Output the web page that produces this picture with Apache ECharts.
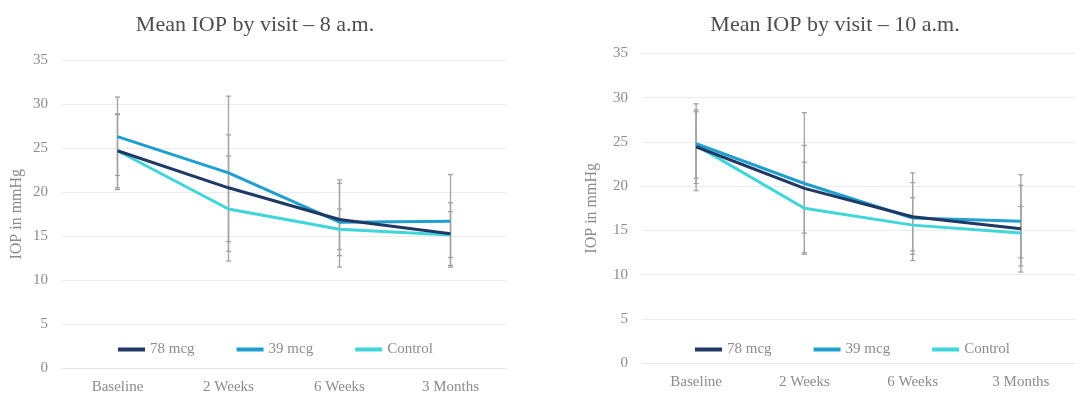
<!DOCTYPE html>
<html>
<head>
<meta charset="utf-8">
<script src="https://cdn.jsdelivr.net/npm/echarts@6/dist/echarts.min.js"></script>
<style>html,body{margin:0;padding:0;background:#fff}#c{width:1075px;height:396px}</style>
</head>
<body>
<div id="c"></div>
<script>
const categories = ['Baseline', '2 Weeks', '6 Weeks', '3 Months'];
const seriesNames = ['78 mcg', '39 mcg', 'Control'];
const yTicks = [0, 5, 10, 15, 20, 25, 30, 35];

// 8 a.m. chart
const am8_78 = [24.7, 20.5, 16.9, 15.3];
const am8_39 = [26.3, 22.2, 16.6, 16.7];
const am8_ctl = [24.7, 18.1, 15.8, 15.15];
const am8_78_lo = [20.3, 14.4, 12.8, 11.7];
const am8_78_hi = [28.9, 26.5, 21.0, 18.8];
const am8_39_lo = [21.9, 13.3, 11.5, 11.5];
const am8_39_hi = [30.8, 30.9, 21.4, 22.0];
const am8_ctl_lo = [20.5, 12.2, 13.5, 12.6];
const am8_ctl_hi = [28.8, 24.1, 18.1, 17.8];

// 10 a.m. chart
const am10_78 = [24.45, 19.75, 16.55, 15.2];
const am10_39 = [24.8, 20.3, 16.4, 16.05];
const am10_ctl = [24.6, 17.5, 15.6, 14.7];
const am10_78_lo = [20.9, 14.7, 12.7, 10.3];
const am10_78_hi = [28.6, 24.6, 20.4, 20.1];
const am10_39_lo = [20.3, 12.5, 11.6, 11.0];
const am10_39_hi = [29.3, 28.3, 21.5, 21.3];
const am10_ctl_lo = [19.5, 12.3, 12.3, 11.9];
const am10_ctl_hi = [28.4, 22.7, 18.7, 17.7];

const colors = ['#203864', '#1f9fcf', '#3fd5d9'];
const FONT = 'Liberation Serif';
const GREY = '#8c8c8c';

function errData(lo, hi) {
  return categories.map((c, i) => [i, lo[i], hi[i]]);
}
function errSeries(idx, lo, hi, tag) {
  return {
    type: 'custom', name: 'err_' + tag, xAxisIndex: idx, yAxisIndex: idx, z: 1,
    silent: true,
    data: errData(lo, hi),
    renderItem: function (params, api) {
      const x = api.value(0);
      const a = api.coord([x, api.value(1)]);
      const b = api.coord([x, api.value(2)]);
      const hw = 2.5;
      const st = { stroke: '#a3a3a3', lineWidth: 1.3 };
      return {
        type: 'group', children: [
          { type: 'line', shape: { x1: a[0], y1: a[1], x2: b[0], y2: b[1] }, style: st },
          { type: 'line', shape: { x1: a[0] - hw, y1: a[1], x2: a[0] + hw, y2: a[1] }, style: st },
          { type: 'line', shape: { x1: b[0] - hw, y1: b[1], x2: b[0] + hw, y2: b[1] }, style: st }
        ]
      };
    }
  };
}
function lineSeries(idx, name, data, color) {
  return {
    type: 'line', name: name, xAxisIndex: idx, yAxisIndex: idx, data: data, z: 3,
    symbol: 'none', smooth: false,
    lineStyle: { color: color, width: 3 }, itemStyle: { color: color }
  };
}
function xAxis(idx) {
  return {
    type: 'category', gridIndex: idx, data: categories, boundaryGap: true,
    axisLine: { show: true, lineStyle: { color: '#e6e6e6', width: 1 } },
    axisTick: { show: false },
    axisLabel: { color: GREY, fontFamily: FONT, fontSize: 15, margin: 11 }
  };
}
function yAxis(idx, gap) {
  return {
    type: 'value', gridIndex: idx, min: 0, max: 35, interval: 5,
    name: 'IOP in mmHg', nameLocation: 'middle', nameGap: gap, nameRotate: 90,
    nameTextStyle: { color: GREY, fontFamily: FONT, fontSize: 16 },
    axisLine: { show: false }, axisTick: { show: false },
    splitLine: { lineStyle: { color: '#ececec', width: 1 } },
    axisLabel: { color: GREY, fontFamily: FONT, fontSize: 15, margin: 14,
      formatter: v => yTicks.indexOf(v) >= 0 ? String(v) : '' }
  };
}
function legend(left) {
  return {
    data: seriesNames, left: left, top: 337, icon: 'rect', itemWidth: 27, itemHeight: 4,
    itemGap: 42, selectedMode: false,
    textStyle: { color: GREY, fontFamily: FONT, fontSize: 15 }
  };
}

const chart = echarts.init(document.getElementById('c'));
chart.setOption({
  animation: false,
  backgroundColor: '#ffffff',
  title: [
    { text: 'Mean IOP by visit – 8 a.m.', left: 250, top: 9, textAlign: 'center',
      textStyle: { color: '#4d4d4d', fontFamily: FONT, fontSize: 22, fontWeight: 'normal' } },
    { text: 'Mean IOP by visit – 10 a.m.', left: 830, top: 9, textAlign: 'center',
      textStyle: { color: '#4d4d4d', fontFamily: FONT, fontSize: 22, fontWeight: 'normal' } }
  ],
  legend: [legend(113), legend(690)],
  grid: [
    { left: 62, width: 444, top: 60, height: 308.5 },
    { left: 642, width: 444, top: 53.3, height: 310 }
  ],
  xAxis: [xAxis(0), xAxis(1)],
  yAxis: [yAxis(0, 37), yAxis(1, 42)],
  series: [
    errSeries(0, am8_78_lo, am8_78_hi, 'a78'),
    errSeries(0, am8_39_lo, am8_39_hi, 'a39'),
    errSeries(0, am8_ctl_lo, am8_ctl_hi, 'actl'),
    errSeries(1, am10_78_lo, am10_78_hi, 'b78'),
    errSeries(1, am10_39_lo, am10_39_hi, 'b39'),
    errSeries(1, am10_ctl_lo, am10_ctl_hi, 'bctl'),
    lineSeries(0, 'Control', am8_ctl, colors[2]),
    lineSeries(0, '39 mcg', am8_39, colors[1]),
    lineSeries(0, '78 mcg', am8_78, colors[0]),
    lineSeries(1, 'Control', am10_ctl, colors[2]),
    lineSeries(1, '39 mcg', am10_39, colors[1]),
    lineSeries(1, '78 mcg', am10_78, colors[0])
  ]
});
</script>
</body>
</html>
